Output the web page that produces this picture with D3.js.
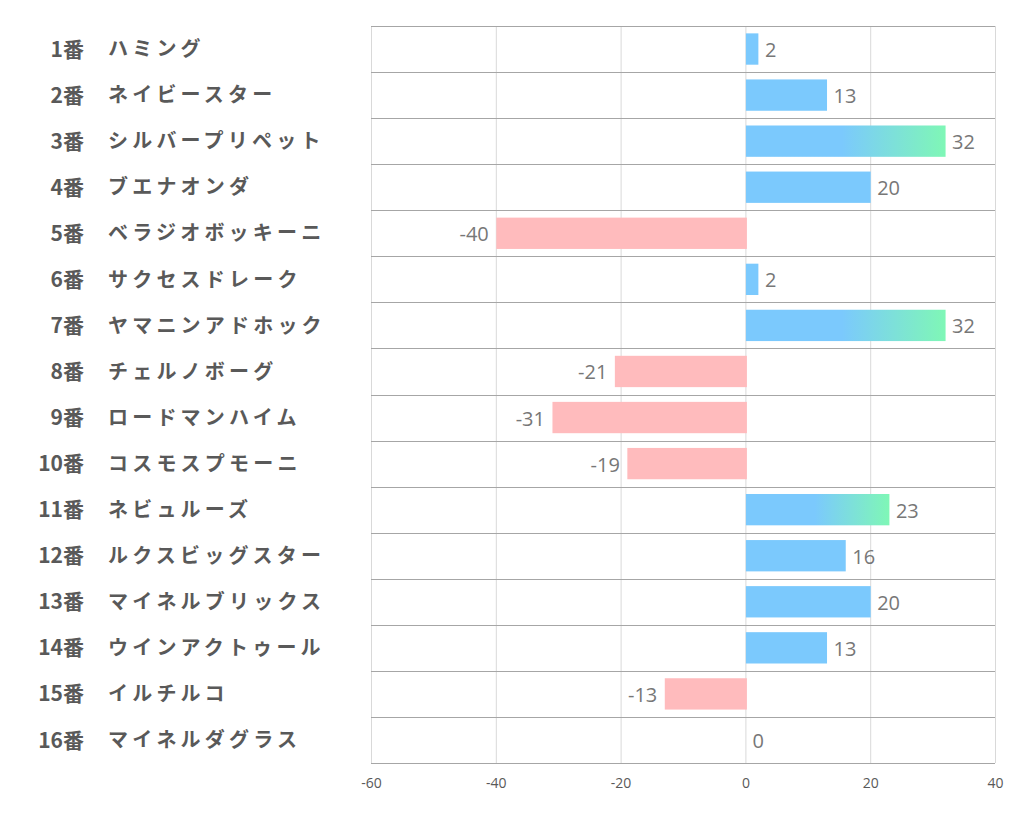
<!DOCTYPE html>
<html>
<head>
<meta charset="utf-8">
<script src="https://cdn.jsdelivr.net/npm/d3@7"></script>
<style>
  body { margin: 0; background: #fff; }
</style>
</head>
<body>
<div id="chart"></div>
<script>
// horse numbers, names and values
var numbers = ['1番', '2番', '3番', '4番', '5番', '6番', '7番', '8番',
    '9番', '10番', '11番', '12番', '13番', '14番', '15番', '16番'];
var names = ['ハミング', 'ネイビースター', 'シルバープリペット', 'ブエナオンダ',
    'ベラジオボッキーニ', 'サクセスドレーク', 'ヤマニンアドホック', 'チェルノボーグ',
    'ロードマンハイム', 'コスモスプモーニ', 'ネビュルーズ', 'ルクスビッグスター',
    'マイネルブリックス', 'ウインアクトゥール', 'イルチルコ', 'マイネルダグラス'];
var values = [2, 13, 32, 20, -40, 2, 32, -21, -31, -19, 23, 16, 20, 13, -13, 0];
// bars drawn with the blue-green gradient
var highlighted = ['3番', '7番', '11番'];
var ticks = [-60, -40, -20, 0, 20, 40];

var margin = { top: 26, right: 27, bottom: 71, left: 371 },
    width = 1022 - margin.left - margin.right,
    height = 834 - margin.top - margin.bottom;

var svg = d3.select('#chart')
    .append('svg')
    .attr('width', 1022)
    .attr('height', 834)
    .append('g')
    .attr('transform', 'translate(' + margin.left + ',' + margin.top + ')');

var x = d3.scaleLinear()
    .domain([-60, 40])
    .range([0, width]);

var y = d3.scaleBand()
    .domain(numbers)
    .range([0, height])
    .paddingInner(0.32)
    .paddingOuter(0.16);

var defs = svg.append('defs');
var grad = defs.append('linearGradient')
    .attr('id', 'hl')
    .attr('x1', '0%').attr('x2', '100%')
    .attr('y1', '0%').attr('y2', '0%');
grad.append('stop').attr('offset', '48%').attr('stop-color', '#7bc9fd');
grad.append('stop').attr('offset', '100%').attr('stop-color', '#7ff7b6');

// vertical grid lines
svg.append('g')
    .selectAll('line')
    .data(ticks)
    .enter()
    .append('line')
    .attr('x1', function(d) { return x(d) + 0.5 })
    .attr('x2', function(d) { return x(d) + 0.5 })
    .attr('y1', 0)
    .attr('y2', height)
    .attr('stroke', '#d9d9d9')
    .attr('stroke-width', 1);

// horizontal row lines
var step = height / numbers.length;
svg.append('g')
    .selectAll('line')
    .data(d3.range(numbers.length + 1))
    .enter()
    .append('line')
    .attr('x1', 0)
    .attr('x2', width)
    .attr('y1', function(i) { return Math.round(i * step) + 0.5 })
    .attr('y2', function(i) { return Math.round(i * step) + 0.5 })
    .attr('stroke', '#a6a6a6')
    .attr('stroke-width', 1);

// bars
svg.append('g')
    .selectAll('rect')
    .data(values)
    .enter()
    .append('rect')
    .attr('x', function(d) { return x(Math.min(0, d)) + 0.5 })
    .attr('y', function(d, i) { return y(numbers[i]) })
    .attr('width', function(d) { return Math.abs(x(d) - x(0)) + (d < 0 ? 1 : 0) })
    .attr('height', y.bandwidth())
    .attr('fill', function(d, i) {
        if (d < 0) return '#ffbbbd';
        if (highlighted.indexOf(numbers[i]) >= 0) return 'url(#hl)';
        return '#7bc9fd';
    });

// value labels
svg.append('g')
    .selectAll('text')
    .data(values)
    .enter()
    .append('text')
    .attr('x', function(d) { return d < 0 ? x(d) - 7 : x(d) + 7 })
    .attr('y', function(d, i) { return y(numbers[i]) + y.bandwidth() / 2 + 1 })
    .attr('dy', '0.35em')
    .attr('text-anchor', function(d) { return d < 0 ? 'end' : 'start' })
    .style('font-family', '"Open Sans", "Noto Sans", sans-serif')
    .style('font-size', '20px')
    .attr('fill', '#777777')
    .text(function(d) { return d });

// x axis tick labels
var xAxis = svg.append('g')
    .attr('transform', 'translate(0,' + height + ')')
    .call(d3.axisBottom(x).tickValues(ticks).tickSize(0).tickPadding(15)
        .tickFormat(function(d) { return String(d) }));
xAxis.select('.domain').remove();
xAxis.selectAll('text')
    .style('font-family', '"Open Sans", "Noto Sans", sans-serif')
    .style('font-size', '14px')
    .attr('fill', '#595959');

// category labels on the left
var labels = svg.append('g')
    .selectAll('g')
    .data(numbers)
    .enter()
    .append('g')
    .attr('transform', function(d) {
        return 'translate(0,' + (y(d) + y.bandwidth() / 2) + ')';
    });

labels.append('text')
    .attr('x', 84 - margin.left)
    .attr('dy', '0.36em')
    .attr('text-anchor', 'end')
    .style('font-family', '"Noto Sans CJK JP", sans-serif')
    .style('font-weight', 'bold')
    .style('font-size', '21px')
    .attr('fill', '#595959')
    .text(function(d) { return d });

labels.append('text')
    .attr('x', 108 - margin.left)
    .attr('dy', '0.36em')
    .style('font-family', '"Noto Sans CJK JP", sans-serif')
    .style('font-weight', 'bold')
    .style('font-size', '20px')
    .style('letter-spacing', '4.2px')
    .attr('fill', '#595959')
    .text(function(d, i) { return names[i] });
</script>
</body>
</html>
